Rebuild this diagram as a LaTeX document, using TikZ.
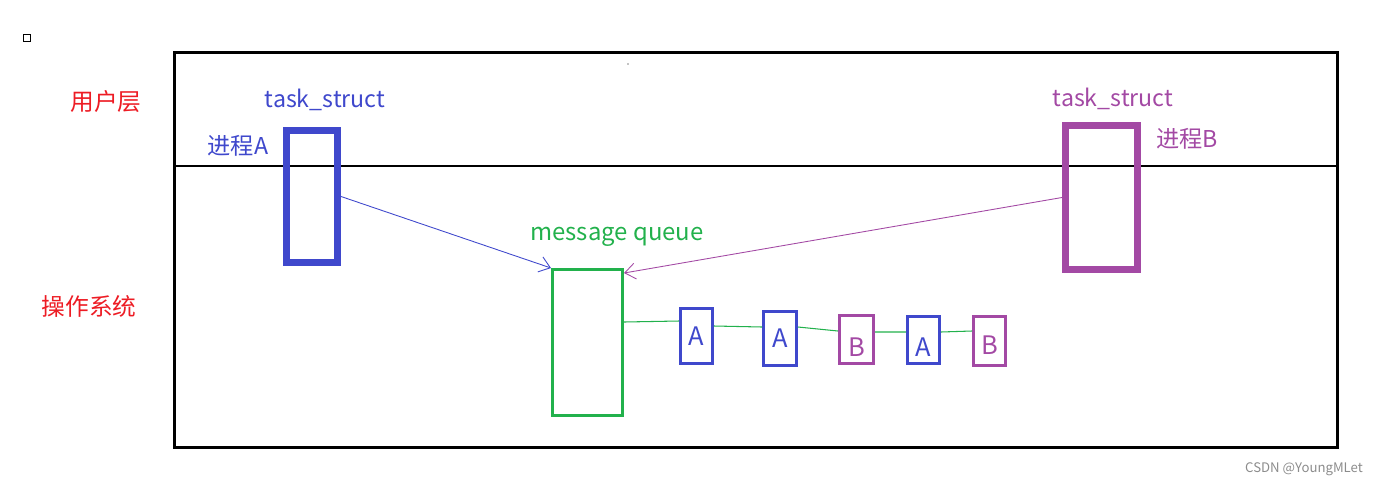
\documentclass[tikz,border=0pt]{standalone}
\usepackage{fontspec}
\setmainfont{Noto Sans CJK SC}
\usetikzlibrary{arrows.meta}
\definecolor{paintblue}{RGB}{63,72,204}
\definecolor{paintpurple}{RGB}{163,73,164}
\definecolor{paintgreen}{RGB}{34,177,76}
\definecolor{paintred}{RGB}{237,28,36}
\tikzset{
	layerlab/.style={text=paintred, font=\fontsize{13.5pt}{15pt}\selectfont},
	biglab/.style={font=\fontsize{13.2pt}{15pt}\selectfont},
	taskbox/.style={draw, line width=4pt, inner sep=0pt},
	queuebox/.style={draw=paintgreen, line width=1.7pt, inner sep=0pt},
	msgbox/.style={draw, line width=1.7pt, inner sep=0pt, font=\fontsize{14.5pt}{16pt}\selectfont},
	link/.style={paintgreen, line width=0.6pt},
	sendarrow/.style={line width=0.5pt, -{Straight Barb[length=6pt,width=9pt]}}
}
\begin{document}
\begin{tikzpicture}[x=0.02cm, y=-0.02cm]
	\useasboundingbox (0,0) rectangle (1386,487);
	\draw[line width=0.5pt] (23,34) rectangle (30,41);
	\draw[line width=1.7pt] (174.5,52.5) rectangle (1337.5,447.5);
	\draw[line width=1.7pt] (174.5,166) -- (1337.5,166);
	\fill (628,64) circle (0.6);
	\node[layerlab] (labUser) at (106,102) {用户层};
	\node[layerlab] (labOS) at (89,306) {操作系统};
	\node[biglab, text=paintblue] (tsA) at (325,100) {task\_struct};
	\node[biglab, text=paintblue] (procA) at (238,146) {进程A};
	\node[biglab, text=paintpurple] (tsB) at (1113,99) {task\_struct};
	\node[biglab, text=paintpurple] (procB) at (1187,139) {进程B};
	\node[biglab, text=paintgreen, font=\fontsize{13.6pt}{15pt}\selectfont] (mqLabel) at (617,237) {message queue};
	\node[taskbox, draw=paintblue, minimum width=1.02cm, minimum height=2.64cm] (boxA) at (312,196.5) {};
	\node[taskbox, draw=paintpurple, minimum width=1.44cm, minimum height=2.88cm] (boxB) at (1101.5,197.5) {};
	\node[queuebox, minimum width=1.40cm, minimum height=2.92cm] (queue) at (587.5,342.5) {};
	\node[msgbox, draw=paintblue, text=paintblue, minimum width=0.64cm, minimum height=1.10cm] (msgA1) at (696.5,336) {A};
	\node[msgbox, draw=paintblue, text=paintblue, minimum width=0.66cm, minimum height=1.08cm] (msgA2) at (780,338.5) {A};
	\node[msgbox, draw=paintpurple, text=paintpurple, minimum width=0.68cm, minimum height=0.96cm, text height=0.66cm, text depth=0pt] (msgB1) at (856.5,339.5) {B};
	\node[msgbox, draw=paintblue, text=paintblue, minimum width=0.64cm, minimum height=0.94cm, text height=0.64cm, text depth=0pt] (msgA3) at (923.5,340) {A};
	\node[msgbox, draw=paintpurple, text=paintpurple, minimum width=0.64cm, minimum height=0.98cm, text height=0.53cm, text depth=0pt] (msgB2) at (989.5,341) {B};
	\draw[sendarrow, paintblue] (boxA.east) -- (queue.north west);
	\draw[sendarrow, paintpurple] (boxB.west) -- ([yshift=-0.1cm]queue.north east);
	\draw[link] ([yshift=0.41cm]queue.east) -- ([yshift=0.3cm]msgA1.west);
	\draw[link] ([yshift=0.2cm]msgA1.east) -- ([yshift=0.23cm]msgA2.west);
	\draw[link] ([yshift=0.23cm]msgA2.east) -- ([yshift=0.17cm]msgB1.west);
	\draw[link] ([yshift=0.15cm]msgB1.east) -- ([yshift=0.16cm]msgA3.west);
	\draw[link] ([yshift=0.16cm]msgA3.east) -- ([yshift=0.2cm]msgB2.west);
	\node[text=black!45, font=\fontsize{7.5pt}{9pt}\selectfont] (watermark) at (1304,469) {CSDN @YoungMLet};
\end{tikzpicture}
\end{document}
